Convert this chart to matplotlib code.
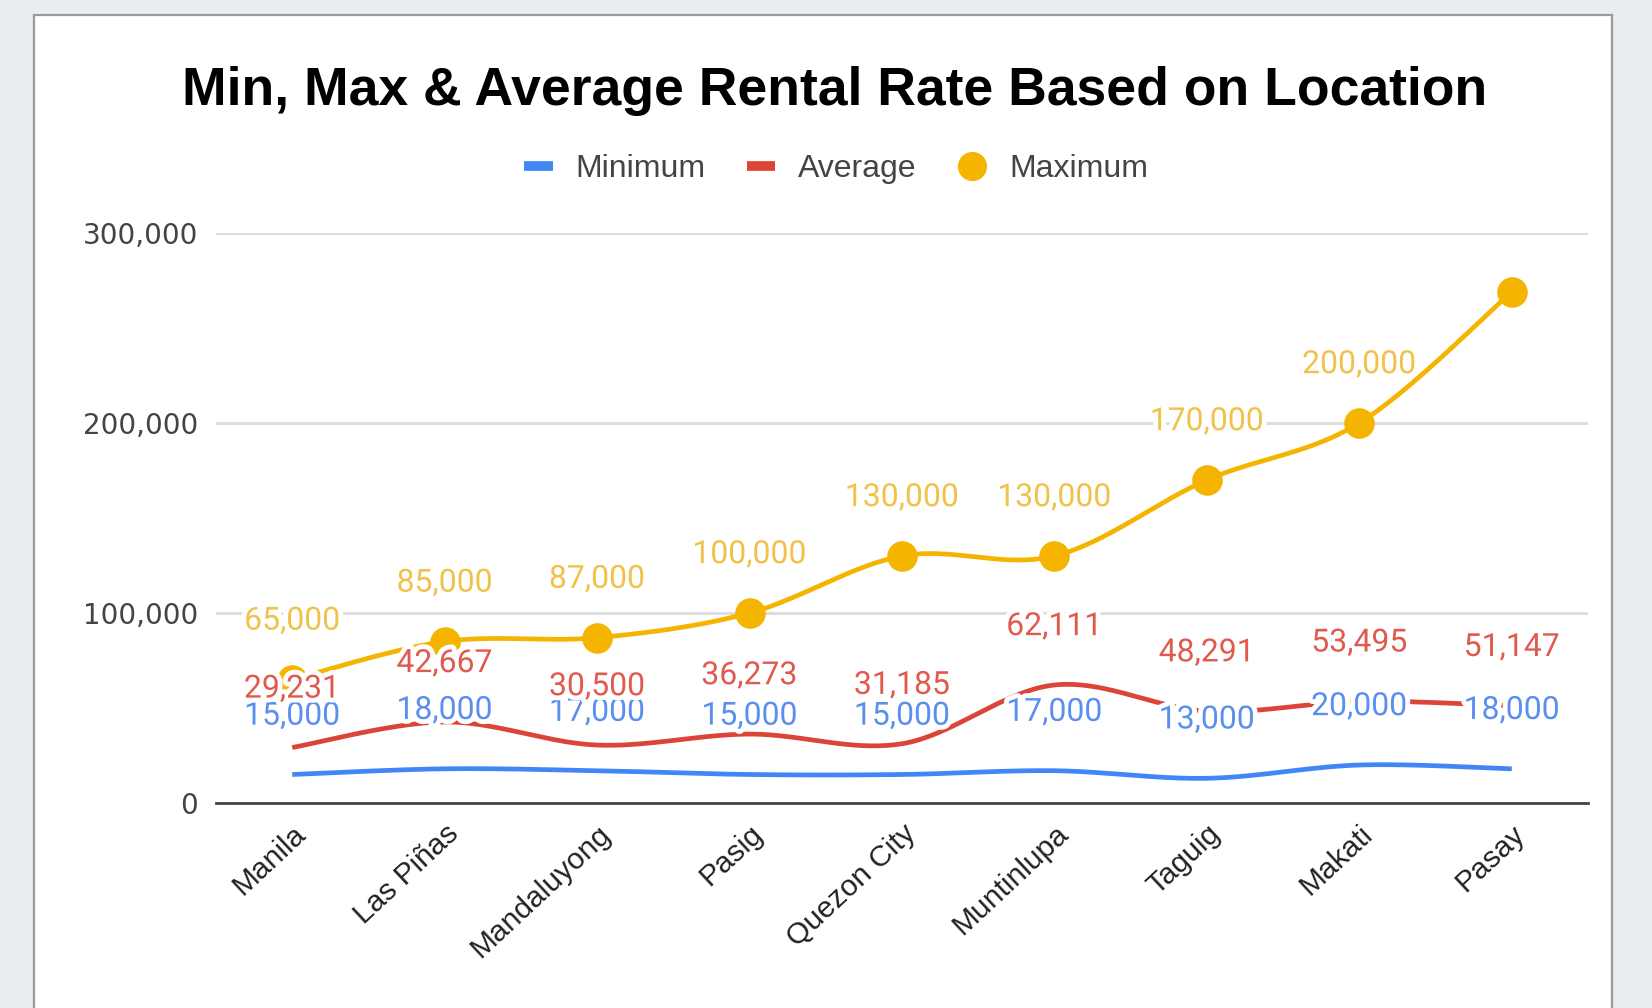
import numpy as np
import matplotlib
matplotlib.use('Agg')
import matplotlib.pyplot as plt
import matplotlib.patheffects as pe
from matplotlib.lines import Line2D
from matplotlib.patches import Rectangle


cities = ['Manila', 'Las Piñas', 'Mandaluyong', 'Pasig', 'Quezon City',
          'Muntinlupa', 'Taguig', 'Makati', 'Pasay']
minimum = [15000, 18000, 17000, 15000, 15000, 17000, 13000, 20000, 18000]
average = [29231, 42667, 30500, 36273, 31185, 62111, 48291, 53495, 51147]
maximum = [65000, 85000, 87000, 100000, 130000, 130000, 170000, 200000, 269000]
# the chart hides the label of the last maximum point
max_label_shown = [True, True, True, True, True, True, True, True, False]
y_ticks = [0, 100000, 200000, 300000]

BLUE, RED, YELLOW = '#4285F4', '#DB4437', '#F4B400'
BLUE_TXT, RED_TXT, YELLOW_TXT = '#5a8ff0', '#e05a50', '#f0c24a'


def smooth(x, y, n=40):
    # catmull-rom style bezier through every point (like google's curveType 'function')
    x = np.asarray(x, float)
    y = np.asarray(y, float)
    px = np.concatenate([[x[0]], x, [x[-1]]])
    py = np.concatenate([[y[0]], y, [y[-1]]])
    t = np.linspace(0, 1, n)[:, None]
    out_x, out_y = [], []
    for i in range(1, len(px) - 2):
        p0 = np.array([px[i], py[i]])
        p3 = np.array([px[i + 1], py[i + 1]])
        p1 = p0 + (np.array([px[i + 1], py[i + 1]]) - np.array([px[i - 1], py[i - 1]])) / 6
        p2 = p3 - (np.array([px[i + 2], py[i + 2]]) - np.array([px[i], py[i]])) / 6
        b = ((1 - t) ** 3) * p0 + 3 * ((1 - t) ** 2) * t * p1 + 3 * (1 - t) * t ** 2 * p2 + t ** 3 * p3
        out_x.append(b[:, 0])
        out_y.append(b[:, 1])
    return np.concatenate(out_x), np.concatenate(out_y)


fig = plt.figure(figsize=(16.52, 10.08), dpi=100, facecolor='#e8edf2')

# white card behind the chart
fig.patches.append(Rectangle((34 / 1652, -0.05), (1612 - 34) / 1652, 1.05 - 15 / 1008,
                             transform=fig.transFigure, facecolor='white',
                             edgecolor='#9a9a9a', linewidth=1.6, zorder=-10))

ax = fig.add_axes([216 / 1652, 1 - 803 / 1008, (1588 - 216) / 1652, (803 - 233) / 1008])
ax.set_facecolor('none')

x = np.arange(len(cities))
halo = [pe.withStroke(linewidth=7, foreground='white')]

for vals, col in [(minimum, BLUE), (average, RED), (maximum, YELLOW)]:
    sx, sy = smooth(x, vals)
    ax.plot(sx, sy, color=col, linewidth=3.4, solid_capstyle='butt', zorder=3)
ax.plot(x, maximum, linestyle='none', marker='o', markersize=22,
        color=YELLOW, markeredgewidth=0, zorder=4)

for i in x:
    for vals, col in [(minimum, BLUE_TXT), (average, RED_TXT), (maximum, YELLOW_TXT)]:
        if vals is maximum and not max_label_shown[i]:
            continue
        ax.annotate(f'{vals[i]:,}', (i, vals[i]), xytext=(0, 42), textcoords='offset points',
                    ha='center', va='center', fontsize=23, family='Roboto',
                    color=col, path_effects=halo, zorder=6)

ax.set_xlim(-0.5, len(cities) - 0.5)
ax.set_ylim(0, 300000)
ax.set_yticks(y_ticks)
ax.set_yticklabels([f'{v:,}' for v in y_ticks], fontsize=20, color='#444444', family='DejaVu Sans')
ax.yaxis.grid(True, color='#dddddd', linewidth=2.2)
ax.set_axisbelow(True)
ax.tick_params(axis='y', length=0, pad=13)
ax.set_xticks(x)
ax.set_xticklabels(cities, rotation=43, ha='right', va='top', rotation_mode='anchor',
                   fontsize=21.5, color='#222222', family='Liberation Sans')
ax.tick_params(axis='x', length=0, pad=12)
for s in ['top', 'right', 'left']:
    ax.spines[s].set_visible(False)
ax.spines['bottom'].set_color('#444444')
ax.spines['bottom'].set_linewidth(2)
ax.spines['bottom'].set_zorder(2)

fig.text(835 / 1652, 1 - 91 / 1008, 'Min, Max & Average Rental Rate Based on Location',
         ha='center', va='center', fontsize=38.5, fontweight='bold', family='Liberation Sans')

handles = [
    Line2D([], [], color=BLUE, linewidth=7, solid_capstyle='butt'),
    Line2D([], [], color=RED, linewidth=7, solid_capstyle='butt'),
    Line2D([], [], color=YELLOW, linestyle='none', marker='o', markersize=21, markeredgewidth=0),
]
fig.legend(handles, ['Minimum', 'Average', 'Maximum'], loc='center',
           bbox_to_anchor=(0.506, 1 - 169 / 1008), ncol=3, frameon=False,
           handlelength=0.9, handletextpad=0.7, columnspacing=1.3,
           prop={'family': 'Liberation Sans', 'size': 23}, labelcolor='#444444')

fig.savefig('out.png', dpi=100, facecolor=fig.get_facecolor())
